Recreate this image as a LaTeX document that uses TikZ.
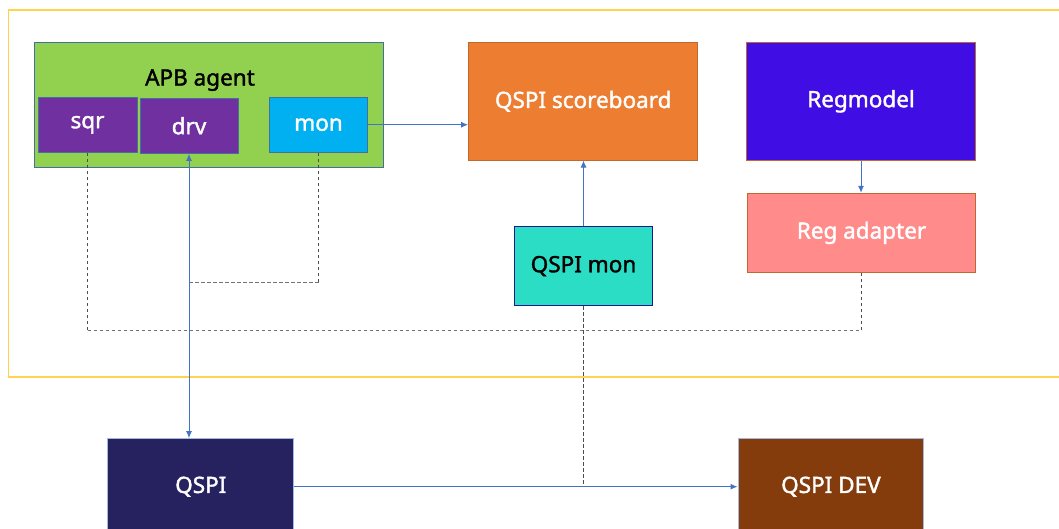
\documentclass[tikz,border=0pt]{standalone}
\usepackage{fontspec}
\setmainfont{Noto Sans}[FakeBold=1.6]
\usetikzlibrary{arrows.meta}
\definecolor{cgreen}{HTML}{92D050}
\definecolor{cpurple}{HTML}{7030A0}
\definecolor{ccyan}{HTML}{00B0F0}
\definecolor{corange}{HTML}{ED7D31}
\definecolor{cviolet}{HTML}{400DE5}
\definecolor{cpink}{HTML}{FF8B8B}
\definecolor{cteal}{HTML}{2BDDC4}
\definecolor{cnavy}{HTML}{25225F}
\definecolor{cbrown}{HTML}{843C0C}
\definecolor{cframe}{HTML}{FFD34D}
\definecolor{cline}{HTML}{4472C4}
\definecolor{cbord}{HTML}{41719C}
\definecolor{cobord}{HTML}{C0692E}
\tikzset{
  lbl/.style={font=\fontsize{22.5}{26}\selectfont\bfseries},
  box/.style={draw=cbord, line width=1pt, inner sep=0pt, text=white, lbl},
  conn/.style={draw=cline, line width=1pt},
  tip/.style={-{Latex[length=7pt,width=6pt]}},
  dashv/.style={draw=black!70, line width=1.2pt, dash pattern=on 3.5pt off 2.5pt},
  dashh/.style={draw=black!55, line width=1.3pt, dash pattern=on 3.5pt off 2.5pt},
}
\begin{document}
\begin{tikzpicture}[x=1pt,y=-1pt]
\clip (0,0) rectangle (1059,528);
\fill[white] (0,0) rectangle (1059,528);
% frame
\draw[cframe, line width=1.2pt] (8.5,10) rectangle (1070,377);
% APB agent
\node[box, fill=cgreen, minimum width=349pt, minimum height=124.6pt] (apb) at (208.5,105.2) {};
\node[lbl, text=black, anchor=base] (apbt) at (200,85.5) {APB agent};
\node[box, fill=cpurple, minimum width=99pt, minimum height=55pt] (sqr) at (87.5,124.8) {sqr};
\node[box, fill=cpurple, minimum width=98pt, minimum height=55pt] (drv) at (189,125.8) {drv};
\node[box, fill=ccyan, minimum width=98.7pt, minimum height=55.3pt] (mon) at (318.5,124.7) {mon};
% right side
\node[box, draw=cobord, fill=corange, minimum width=229.2pt, minimum height=117.3pt] (sb) at (583.2,101.35) {QSPI scoreboard};
\node[box, draw=cobord, fill=cviolet, minimum width=228.7pt, minimum height=117.3pt] (reg) at (861,101.35) {Regmodel};
\node[box, draw=cobord, fill=cpink, minimum width=228.7pt, minimum height=79pt] (adp) at (861.5,232.8) {Reg adapter};
\node[box, draw=cnavy!70!blue, fill=cteal, text=black, minimum width=137.7pt, minimum height=79.4pt] (qmon) at (583.5,266) {QSPI mon};
% bottom
\node[box, draw=cline!50, fill=cnavy, minimum width=185.7pt, minimum height=96pt] (qspi) at (200.8,486.7) {QSPI};
\node[box, draw=cline!50, fill=cbrown, minimum width=185.8pt, minimum height=96pt] (dev) at (830.9,486.7) {QSPI DEV};
% dashed connections
\coordinate (bus) at (0,330.5);
\coordinate (monj) at (0,282.5);
\draw[dashv] (sqr.south) -- (sqr.south |- bus);
\draw[dashv] (adp.south) -- (adp.south |- bus);
\draw[dashh] (sqr.south |- bus) -- (adp.south |- bus);
\draw[dashv] (mon.south) -- (mon.south |- monj);
\draw[dashh] (mon.south |- monj) -- (drv.south |- monj);
\draw[dashv] (qmon.south) -- (qmon.south |- qspi.east);
% solid connections
\draw[conn, tip] (mon.east) -- (mon.east -| sb.west);
\draw[conn, tip] (qmon.north) -- (qmon.north |- sb.south);
\draw[conn, tip] (reg.south) -- (reg.south |- adp.north);
\draw[conn, {Latex[length=7pt,width=6pt]}-{Latex[length=7pt,width=6pt]}] (drv.south) -- (drv.south |- qspi.north);
\draw[conn, tip] (qspi.east) -- (dev.west);
\end{tikzpicture}
\end{document}
